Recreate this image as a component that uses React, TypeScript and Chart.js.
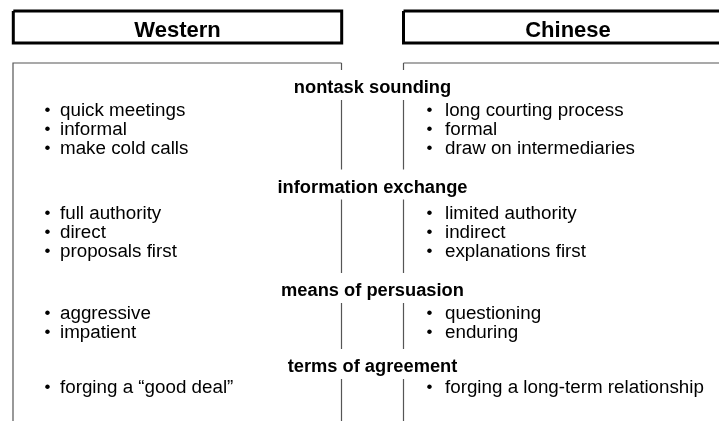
import React, { useEffect, useRef } from "react";
import { Chart, registerables } from "chart.js";

Chart.register(...registerables);

// ---------- data ----------
const headers = ["Western", "Chinese"];
const sections = [
  "nontask sounding",
  "information exchange",
  "means of persuasion",
  "terms of agreement",
];
const westernItems = [
  ["quick meetings", "informal", "make cold calls"],
  ["full authority", "direct", "proposals first"],
  ["aggressive", "impatient"],
  ["forging a \u201cgood deal\u201d"],
];
const chineseItems = [
  ["long courting process", "formal", "draw on intermediaries"],
  ["limited authority", "indirect", "explanations first"],
  ["questioning", "enduring"],
  ["forging a long-term relationship"],
];

// ---------- layout (positions in scale units; scale = canvas pixels) ----------
const W = 719;
const H = 421;
const HEADER_BOXES = [
  { x0: 13.3, x1: 341.7 },
  { x0: 403.5, x1: 733 },
];
const HEADER_TOP = 11;
const HEADER_BOTTOM = 43;
const HEADER_BASE = 36.5;
const FRAME_LEFT = 13;
const DIV_L = 341.5;
const DIV_R = 403.5;
const FRAME_TOP = 63;
const HEAD_BASE = [93, 192.5, 296, 372];
const ITEM_FIRST = [116, 219, 319, 392.5];
const ITEM_STEP = 19;
const GAP_ABOVE = 23;
const GAP_BELOW = 7;
const WEST_BULLET_X = 47.5;
const WEST_TEXT_X = 60;
const EAST_BULLET_X = 429.5;
const EAST_TEXT_X = 445;
const FONT = "'Liberation Sans', Arial, Helvetica, sans-serif";

function seg(points: { x: number; y: number }[], color: string, width: number) {
  return {
    type: "line" as const,
    data: points,
    showLine: true,
    borderColor: color,
    backgroundColor: color,
    borderWidth: width,
    pointRadius: 0,
    pointHoverRadius: 0,
    fill: false,
    tension: 0,
    borderJoinStyle: "miter" as const,
    borderCapStyle: "butt" as const,
  };
}

function buildDatasets() {
  const ds: any[] = [];
  const thin = "#555555";
  HEADER_BOXES.forEach((b) => {
    ds.push(
      seg(
        [
          { x: b.x0, y: HEADER_TOP },
          { x: b.x1, y: HEADER_TOP },
          { x: b.x1, y: HEADER_BOTTOM },
          { x: b.x0, y: HEADER_BOTTOM },
          { x: b.x0, y: HEADER_TOP },
        ],
        "#000",
        3
      )
    );
  });
  ds.push(
    seg(
      [
        { x: FRAME_LEFT, y: H + 5 },
        { x: FRAME_LEFT, y: FRAME_TOP },
        { x: DIV_L, y: FRAME_TOP },
      ],
      thin,
      1.2
    )
  );
  ds.push(
    seg(
      [
        { x: DIV_R, y: FRAME_TOP },
        { x: W + 5, y: FRAME_TOP },
      ],
      thin,
      1.2
    )
  );
  const stops: number[] = [FRAME_TOP];
  HEAD_BASE.forEach((b) => {
    stops.push(b - GAP_ABOVE, b + GAP_BELOW);
  });
  stops.push(H + 5);
  for (let i = 0; i < stops.length; i += 2) {
    [DIV_L, DIV_R].forEach((x) => {
      ds.push(
        seg(
          [
            { x, y: stops[i] },
            { x, y: stops[i + 1] },
          ],
          thin,
          1.2
        )
      );
    });
  }
  return ds;
}

const textPlugin = {
  id: "textLayer",
  afterDatasetsDraw(chart: any) {
    const { ctx } = chart;
    const xs = chart.scales.x;
    const ys = chart.scales.y;
    const px = (v: number) => xs.getPixelForValue(v);
    const py = (v: number) => ys.getPixelForValue(v);
    ctx.save();
    ctx.fillStyle = "#000";
    ctx.textBaseline = "alphabetic";

    ctx.font = `bold 22px ${FONT}`;
    ctx.textAlign = "center";
    headers.forEach((h, i) => {
      const b = HEADER_BOXES[i];
      const cx = i === 0 ? (b.x0 + b.x1) / 2 : 568;
      ctx.fillText(h, px(cx), py(HEADER_BASE));
    });

    ctx.font = `bold 18.3px ${FONT}`;
    sections.forEach((s, i) => {
      ctx.fillText(s, px((DIV_L + DIV_R) / 2), py(HEAD_BASE[i]));
    });

    sections.forEach((_, i) => {
      const drawCol = (items: string[], bx: number, tx: number) => {
        items.forEach((t, j) => {
          const yb = py(ITEM_FIRST[i] + j * ITEM_STEP);
          ctx.font = `17px ${FONT}`;
          ctx.textAlign = "center";
          ctx.fillText("\u2022", px(bx), yb - 1);
          ctx.font = `18.8px ${FONT}`;
          ctx.textAlign = "left";
          ctx.fillText(t, px(tx), yb);
        });
      };
      drawCol(westernItems[i], WEST_BULLET_X, WEST_TEXT_X);
      drawCol(chineseItems[i], EAST_BULLET_X, EAST_TEXT_X);
    });
    ctx.restore();
  },
};

export default function App() {
  const ref = useRef<HTMLCanvasElement | null>(null);
  useEffect(() => {
    if (!ref.current) return;
    const chart = new Chart(ref.current, {
      type: "scatter",
      data: { datasets: buildDatasets() },
      options: {
        animation: false,
        responsive: false,
        maintainAspectRatio: false,
        devicePixelRatio: 1,
        events: [],
        layout: { padding: 0 },
        plugins: {
          legend: { display: false },
          tooltip: { enabled: false },
          title: { display: false },
        },
        scales: {
          x: { type: "linear", min: 0, max: W, display: false },
          y: { type: "linear", min: 0, max: H, reverse: true, display: false },
        },
      },
      plugins: [textPlugin],
    });
    return () => chart.destroy();
  }, []);
  return (
    <div style={{ position: "fixed", left: 0, top: 0, width: W, height: H, background: "#fff" }}>
      <canvas ref={ref} width={W} height={H} style={{ display: "block", width: W, height: H }} />
    </div>
  );
}
